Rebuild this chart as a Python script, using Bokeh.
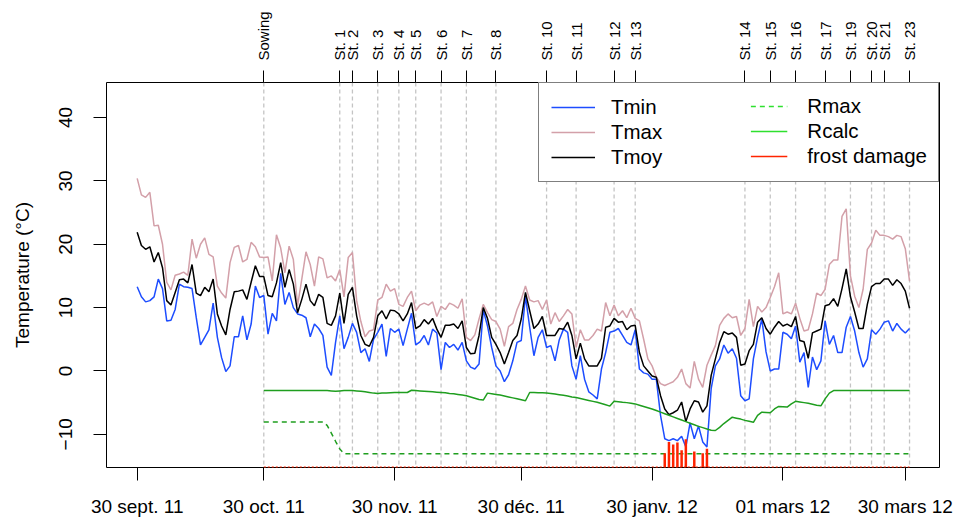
import pandas as pd
from bokeh.plotting import figure
from bokeh.models import (LinearAxis, FixedTicker, Span, Legend, LegendItem, Range1d)
from bokeh.embed import file_html
from bokeh.resources import INLINE

START = "2011-09-30"

tmin = [13.3, 11.7, 10.9, 11.1, 11.7, 14.5, 13.0, 7.9, 8.0, 9.7, 13.7, 13.3, 13.2, 13.0, 8.4,
        4.1, 5.3, 6.5, 10.7, 5.3, 2.1, -0.1, 0.8, 5.4, 5.4, 8.7, 4.9, 7.4, 13.4, 11.6,
        11.9, 5.8, 9.1, 7.9, 15.4, 10.5, 12.4, 10.0, 9.0, 8.8, 8.4, 5.4, 7.4, 6.7, 5.6, 0.6,
        -0.7, 4.5, 8.7, 3.5, 5.3, 7.5, 6.1, 2.9, 3.5, 1.5, 5.0, 6.1, 7.4, 2.3, 6.7, 6.1,
        6.6, 4.0, 6.6, 9.1, 4.1, 4.6, 5.6, 4.1, 6.6, 6.0, 0.2, 4.5, 3.7, 4.2, 3.3, 4.5, 1.6,
        0.6, 0.3, 1.1, 9.6, 7.1, 3.7, 0.8, 0.0, -1.7, -0.6, 1.6, 4.5, 4.8, 11.8, 6.9, 2.4,
        5.3, 6.5, 3.7,
        4.0, 1.6, 4.9, 6.6, 6.1, 0.8, -1.3, 2.4, -1.3, -3.3, -3.8, -4.4, 0.3, 2.9, 6.1, 6.3,
        6.7, 5.6, 4.5, 4.1, 6.5, 0.3, -0.3, -0.5, -1.3, -1.3, -7.0, -10.7, -11.0, -10.7, -11.0,
        -10.3, -12.0, -8.2, -10.7, -8.7, -11.2, -12.0, -2.8, 0.8, 1.9, 4.1, 2.8, 3.5, 2.0,
        -3.9, -4.7, -4.4, 1.9, 5.3, 8.2, 3.0, 0.0, 0.3, 0.3, 6.1, 5.8, 5.1, 7.1, 1.4, 2.9,
        -2.6, 2.2, 0.2, 1.6, 7.9,
        4.2, 5.6, 2.9, 2.9, 6.9, 8.6, 6.3, 2.9, 0.6, 1.9, 6.5, 5.8, 6.6, 7.7, 7.9, 6.3, 7.5,
        6.6, 6.0, 6.7]

tmax = [30.4, 27.8, 27.4, 28.2, 22.9, 23.0, 20.0, 14.0, 12.8, 15.1, 15.3, 15.6, 15.1, 20.8,
        17.8, 20.0, 21.0, 18.4, 18.0, 13.4, 12.3, 11.5, 17.1, 19.5, 19.8, 17.2, 17.6, 20.3,
        19.6, 18.0,
        17.9, 18.0, 14.2, 21.5, 19.4, 15.5, 19.7, 17.6, 10.3, 14.5, 18.8, 16.8, 13.4, 18.0,
        17.7, 14.7, 15.0, 14.2, 16.0, 11.7, 17.9, 18.7, 11.1, 7.8, 5.4, 6.3, 6.5, 11.2, 11.6,
        13.7, 12.6, 13.0,
        10.5, 10.2, 11.6, 12.6, 9.5, 10.4, 10.7, 10.4, 10.9, 8.6, 10.2, 9.7, 10.7, 10.4, 9.9,
        11.4, 5.3, 4.8, 5.7, 8.2, 10.5, 9.2, 8.1, 7.8, 6.6, 3.9, 7.0, 7.5, 9.7, 11.3, 13.4,
        11.2, 10.9, 11.1, 9.7, 11.2,
        7.4, 9.2, 7.8, 8.7, 9.7, 9.0, 3.7, 6.5, 4.9, 4.9, 5.6, 6.6, 6.3, 10.8, 8.7, 10.4, 8.7,
        9.5, 8.4, 9.9, 8.3, 7.9, 5.0, 1.9, 0.8, -1.0, -2.0, -2.3, -2.0, -1.7, -1.0,
        0.3, -2.0, -2.7, 1.5, -1.3, -2.6, 0.9, 2.5, 4.0, 7.2, 8.3, 9.0, 8.4, 8.6, 5.6, 6.7,
        11.3, 7.0, 10.2, 9.3, 10.0, 11.6, 13.3, 15.5, 9.0, 9.3, 9.0, 10.7, 8.3, 6.3, 6.5, 9.0,
        12.3, 11.9, 12.9,
        16.8, 17.5, 17.5, 24.4, 25.6, 15.0, 11.8, 10.0, 12.9, 19.2, 20.2, 22.2, 21.4, 21.4,
        21.2, 20.8, 21.4, 21.2, 19.3, 14.2]

tmoy = [21.9, 19.8, 19.2, 19.6, 17.2, 18.7, 16.3, 11.1, 10.4, 12.4, 14.4, 14.5, 13.9, 16.8,
        12.3, 11.9, 13.2, 12.5, 14.5, 9.0, 7.1, 5.7, 9.7, 12.5, 12.6, 12.8, 11.3, 14.0, 16.6,
        14.9,
        14.9, 11.9, 11.7, 13.9, 17.1, 13.2, 16.0, 13.7, 9.2, 11.3, 13.7, 11.1, 10.3, 12.1,
        11.6, 7.5, 7.2, 8.7, 12.3, 7.5, 12.1, 13.2, 8.7, 5.6, 4.2, 3.9, 5.3, 8.7, 9.5, 8.2,
        9.6, 9.5,
        9.0, 7.9, 9.0, 10.8, 6.7, 7.1, 8.1, 7.4, 8.3, 6.6, 5.3, 7.2, 7.2, 7.4, 6.7, 7.9, 3.7,
        2.7, 2.8, 5.6, 10.0, 8.3, 5.3, 4.2, 2.9, 1.1, 2.9, 4.8, 5.6, 8.2, 12.4, 9.5, 6.7, 7.4,
        8.6, 5.6,
        5.6, 5.6, 6.7, 6.6, 7.7, 5.6, 1.9, 4.4, 1.9, 0.8, 0.8, 0.8, 2.0, 6.9, 7.1, 8.3, 7.7,
        7.8, 6.5, 7.1, 7.2, 2.9, 0.8, 0.0, -0.8, -1.0, -3.9, -6.0, -6.9, -6.6, -6.2,
        -4.9, -8.0, -6.0, -4.7, -4.9, -6.5, -5.5, -0.7, 1.9, 4.5, 6.2, 5.8, 6.0, 5.3, 0.9, 1.1,
        3.2, 4.2, 7.7, 8.4, 6.7, 5.8, 6.9, 7.8, 7.1, 7.4, 7.0, 8.6, 4.8, 4.6, 2.0, 6.0, 6.3,
        6.6, 10.3,
        10.5, 11.4, 10.2, 13.0, 16.1, 11.7, 9.3, 6.7, 6.7, 10.5, 13.3, 13.8, 13.8, 14.5, 14.5,
        13.5, 14.4, 13.8, 12.6, 9.9]

# Daily series starting at sowing date
rcalc = [-3.1, -3.1, -3.1, -3.1, -3.1, -3.1, -3.1, -3.1, -3.1, -3.1, -3.1, -3.1, -3.1, -3.1,
         -3.1, -3.1, -3.15, -3.2, -3.15, -3.1, -3.1, -3.1,
         -3.15, -3.2, -3.3, -3.4, -3.5, -3.55, -3.5, -3.5, -3.45, -3.4, -3.4, -3.4, -3.4,
         -3.05, -3.1, -3.15, -3.2, -3.25, -3.3, -3.35, -3.4, -3.45, -3.55, -3.6, -3.7, -3.8,
         -3.9, -4.1, -4.3, -4.5, -4.6,
         -3.5, -3.6, -3.7, -3.8, -3.95, -4.1, -4.25, -4.4, -4.55, -4.7,
         -3.4, -3.4, -3.45, -3.45, -3.5, -3.55, -3.65, -3.75, -3.85, -3.95, -4.1, -4.2, -4.35,
         -4.5, -4.65, -4.8, -4.95, -5.15, -5.35, -5.55,
         -4.8, -4.85, -4.95, -5.0, -5.1, -5.2,
         -5.4, -5.6, -5.8, -6.0, -6.25, -6.5, -6.75, -7.0, -7.25, -7.5, -7.75, -8.0, -8.25,
         -8.5, -8.75, -8.95, -9.15, -9.35, -9.4,
         -8.9, -8.3, -7.8, -7.3,
         -7.45, -7.6, -7.8, -7.95, -8.1,
         -7.0, -6.5, -6.55, -6.6, -6.0, -5.6, -5.65, -5.7, -5.2, -4.8, -4.9, -5.0, -5.1, -5.25,
         -5.4, -5.5, -4.4, -3.5, -3.1,
         -3.1, -3.1, -3.1, -3.1, -3.1, -3.1, -3.1, -3.1, -3.1, -3.1, -3.1, -3.1, -3.1, -3.1,
         -3.1, -3.1, -3.1, -3.1]

rmax = [-8.05] * 15 + [-8.6, -9.8, -11.1, -12.3] + [-13.05] * 135

frost_dates = ["2012-02-02", "2012-02-03", "2012-02-04", "2012-02-05", "2012-02-06",
               "2012-02-07", "2012-02-09", "2012-02-11", "2012-02-12"]
frost_level = [-13.0, -11.2, -11.6, -11.3, -12.5, -10.8, -12.7, -13.0, -12.3]
FROST_BASE = -15.2

stage_names = ["Sowing", "St. 1", "St. 2", "St. 3", "St. 4", "St. 5", "St. 6", "St. 7",
               "St. 8", "St. 10", "St. 11", "St. 12", "St. 13", "St. 14", "St. 15",
               "St. 16", "St. 17", "St. 19", "St. 20", "St. 21", "St. 23"]
stage_dates = ["2011-10-30", "2011-11-17", "2011-11-20", "2011-11-26", "2011-12-01",
               "2011-12-05", "2011-12-11", "2011-12-17", "2011-12-24", "2012-01-05",
               "2012-01-12", "2012-01-21", "2012-01-26", "2012-02-21", "2012-02-27",
               "2012-03-04", "2012-03-11", "2012-03-17", "2012-03-22", "2012-03-25",
               "2012-03-31"]

tick_dates = ["2011-09-30", "2011-10-30", "2011-11-30", "2011-12-30", "2012-01-30",
              "2012-03-01", "2012-03-30"]
tick_labels = ["30 sept. 11", "30 oct. 11", "30 nov. 11", "30 déc. 11", "30 janv. 12",
               "01 mars 12", "30 mars 12"]
y_ticks = [-10, 0, 10, 20, 30, 40]

t0 = pd.Timestamp(START)
def day(d):
    return (pd.Timestamp(d) - t0).days

days = list(range(len(tmin)))
stage_days = [day(d) for d in stage_dates]
sow = stage_days[0]
r_days = list(range(sow, sow + len(rcalc)))
frost_days = [day(d) for d in frost_dates]
tick_days = [day(d) for d in tick_dates]

FONT = "Liberation Sans"
C_TMIN = "#1d4dff"
C_TMAX = "#d3a0a9"
C_GREEN = "#1f9e1f"
C_LGREEN = "#2ee02e"
C_RED = "#ff2400"
NAN = float("nan")

p = figure(width=954, height=519, output_backend="svg", toolbar_location=None,
           x_range=Range1d(-7.27, 190.1), y_range=Range1d(-15.24, 45.53),
           min_border_left=106, min_border_right=15, min_border_top=82, min_border_bottom=50)
p.background_fill_color = "white"
p.border_fill_color = "white"
p.outline_line_color = "black"
p.outline_line_width = 1
p.grid.grid_line_color = None

for d in stage_days:
    s = Span(location=d, dimension="height", line_color="#c4c4c4", line_dash="4 3",
             line_width=1.3, level="underlay")
    p.add_layout(s)

r_tmax = p.line(days, tmax, line_color=C_TMAX, line_width=1.5)
r_tmin = p.line(days, tmin, line_color=C_TMIN, line_width=1.5)
r_tmoy = p.line(days, tmoy, line_color="black", line_width=1.5)
p.line(r_days, rmax, line_color=C_GREEN, line_width=1.5, line_dash="5 4")
p.line(r_days, rcalc, line_color=C_GREEN, line_width=1.5)
p.line([sow, days[-1]], [FROST_BASE, FROST_BASE], line_color=C_RED, line_width=1.5,
       line_dash="2 2")
p.segment(x0=frost_days, y0=[FROST_BASE] * len(frost_days), x1=frost_days, y1=frost_level,
          line_color=C_RED, line_width=2.5)

# legend proxies (one undefined point each, nothing drawn in the plot)
lg_rmax = p.line([NAN], [NAN], line_color=C_LGREEN, line_width=1.5, line_dash="5 4")
lg_rcalc = p.line([NAN], [NAN], line_color=C_LGREEN, line_width=1.5)
lg_frost = p.line([NAN], [NAN], line_color=C_RED, line_width=1.5)

def style_axis(ax, size="19px"):
    ax.axis_line_color = None
    ax.major_tick_line_color = "black"
    ax.major_tick_in = 0
    ax.major_tick_out = 13
    ax.minor_tick_line_color = None
    ax.major_label_text_font = FONT
    ax.major_label_text_font_size = size
    ax.major_label_text_color = "black"
    ax.axis_label_text_font = FONT
    ax.axis_label_text_font_size = "19px"
    ax.axis_label_text_font_style = "normal"
    ax.axis_label_text_color = "black"

xa = p.xaxis[0]
xa.ticker = FixedTicker(ticks=tick_days)
xa.major_label_overrides = {d: l for d, l in zip(tick_days, tick_labels)}
style_axis(xa)
xa.major_label_standoff = 15

ya = p.yaxis[0]
ya.ticker = FixedTicker(ticks=y_ticks)
style_axis(ya)
ya.major_label_orientation = "vertical"
ya.major_label_standoff = 21
ya.axis_label = "Temperature (°C)"
ya.axis_label_standoff = 24

top = LinearAxis(ticker=FixedTicker(ticks=stage_days),
                 major_label_overrides={d: n for d, n in zip(stage_days, stage_names)})
style_axis(top, "15px")
top.major_tick_out = 12
top.major_label_orientation = "vertical"
top.major_label_standoff = 10
p.add_layout(top, "above")

LEG_FONT = "20.5px"
legA = Legend(items=[LegendItem(label="Tmin", renderers=[r_tmin]),
                     LegendItem(label="Tmax", renderers=[r_tmax]),
                     LegendItem(label="Tmoy", renderers=[r_tmoy])],
              location="top_right", margin=0, padding=12, spacing=1,
              glyph_width=44, glyph_height=22, label_height=22, label_width=315,
              label_standoff=16, label_text_font=FONT, label_text_font_size=LEG_FONT,
              label_text_color="black", border_line_color="black", border_line_width=1,
              background_fill_color="white", background_fill_alpha=1.0)
legB = Legend(items=[LegendItem(label="Rmax", renderers=[lg_rmax]),
                     LegendItem(label="Rcalc", renderers=[lg_rcalc]),
                     LegendItem(label="frost damage", renderers=[lg_frost])],
              location="top_right", margin=0, padding=12, spacing=1,
              glyph_width=37, glyph_height=22, label_height=22,
              label_standoff=20, label_text_font=FONT, label_text_font_size=LEG_FONT,
              label_text_color="black", border_line_color="white", border_line_alpha=0.0,
              background_fill_alpha=0.0)
p.add_layout(legA, "center")
p.add_layout(legB, "center")

open("out.html", "w").write(file_html(p, INLINE))
